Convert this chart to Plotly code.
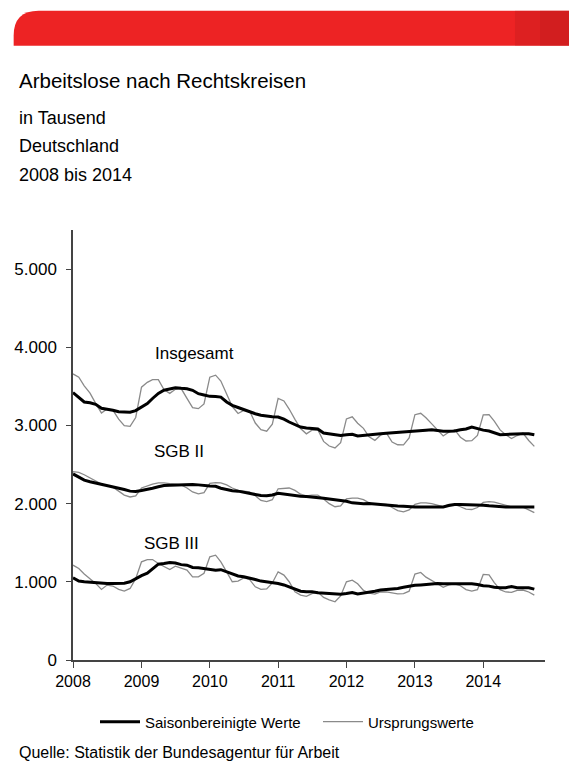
import pandas as pd
import plotly.graph_objects as go

W, H = 569, 764
ML, MR, MT, MB = 73.3, 24, 229.5, 104
PW, PH = W - ML - MR, H - MT - MB

months = pd.date_range("2008-01-01", periods=82, freq="MS")

ins_nsa = [3659, 3617, 3507, 3414, 3283, 3160, 3210, 3196, 3080, 2997, 2988, 3102,
           3489, 3552, 3586, 3585, 3458, 3410, 3462, 3472, 3346, 3229, 3215, 3276,
           3617, 3643, 3568, 3406, 3242, 3153, 3192, 3188, 3031, 2945, 2927, 3016,
           3347, 3313, 3210, 3078, 2960, 2893, 2939, 2945, 2796, 2737, 2713, 2780,
           3084, 3110, 3028, 2963, 2855, 2809, 2876, 2905, 2788, 2753, 2751, 2840,
           3138, 3156, 3098, 3020, 2937, 2865, 2914, 2946, 2849, 2801, 2806, 2873,
           3136, 3138, 3055, 2943, 2882, 2833, 2871, 2902, 2808, 2733]
ins_sa = [3420, 3360, 3300, 3290, 3270, 3220, 3210, 3195, 3175, 3170, 3170, 3190,
          3230, 3280, 3345, 3410, 3450, 3470, 3483, 3475, 3470, 3450, 3406, 3390,
          3372, 3370, 3363, 3300, 3257, 3230, 3201, 3175, 3150, 3130, 3116, 3110,
          3108, 3080, 3044, 3010, 2980, 2967, 2960, 2955, 2903, 2895, 2880, 2873,
          2880, 2886, 2865, 2875, 2882, 2890, 2895, 2900, 2905, 2912, 2915, 2916,
          2925, 2935, 2940, 2946, 2935, 2925, 2925, 2930, 2945, 2955, 2980, 2960,
          2940, 2929, 2905, 2882, 2885, 2890, 2895, 2895, 2895, 2882]
sgb2_nsa = [2410, 2400, 2370, 2330, 2290, 2250, 2230, 2210, 2160, 2110, 2085, 2100,
            2200, 2230, 2250, 2265, 2265, 2255, 2250, 2240, 2200, 2150, 2125, 2140,
            2260, 2270, 2265, 2240, 2200, 2170, 2160, 2150, 2100, 2040, 2027, 2050,
            2190, 2200, 2200, 2170, 2120, 2100, 2110, 2110, 2060, 2000, 1960, 1970,
            2060, 2070, 2070, 2050, 2010, 1990, 1990, 1990, 1950, 1910, 1895, 1920,
            1990, 2010, 2010, 2000, 1980, 1960, 1990, 1990, 1960, 1930, 1925, 1950,
            2015, 2025, 2020, 2000, 1985, 1960, 1960, 1955, 1920, 1886]
sgb2_sa = [2380, 2340, 2300, 2280, 2265, 2240, 2225, 2210, 2195, 2180, 2160, 2155,
           2167, 2180, 2197, 2215, 2231, 2235, 2239, 2239, 2239, 2245, 2240, 2231,
           2225, 2222, 2197, 2180, 2165, 2160, 2146, 2135, 2124, 2103, 2100, 2110,
           2132, 2120, 2110, 2100, 2094, 2090, 2085, 2075, 2068, 2060, 2050, 2040,
           2030, 2010, 2001, 2000, 2003, 1995, 1990, 1985, 1980, 1970, 1965, 1958,
           1958, 1958, 1957, 1960, 1962, 1958, 1975, 1988, 1990, 1988, 1988, 1985,
           1980, 1972, 1965, 1960, 1958, 1958, 1958, 1958, 1958, 1958]
sgb3_nsa = [1213, 1171, 1100, 1040, 980, 903, 958, 946, 903, 881, 915, 1040,
            1256, 1285, 1285, 1235, 1192, 1158, 1200, 1171, 1150, 1064, 1064, 1110,
            1320, 1341, 1256, 1128, 1001, 1010, 1050, 1030, 936, 903, 910, 985,
            1128, 1086, 1001, 873, 830, 815, 850, 870, 800, 770, 745, 820,
            1000, 1022, 975, 890, 855, 843, 870, 870, 855, 845, 850, 880,
            1100, 1120, 1060, 1022, 975, 930, 960, 975, 950, 900, 880, 900,
            1094, 1090, 990, 900, 870, 865, 890, 895, 870, 830]
sgb3_sa = [1051, 1010, 1000, 995, 985, 979, 979, 979, 979, 982, 1000, 1043,
           1080, 1110, 1160, 1226, 1235, 1248, 1240, 1220, 1213, 1184, 1180, 1170,
           1160, 1149, 1155, 1130, 1098, 1075, 1064, 1050, 1030, 1009, 1000, 990,
           979, 960, 936, 900, 880, 872, 872, 860, 855, 850, 843, 840,
           850, 864, 845, 855, 864, 880, 894, 900, 905, 915, 930, 945,
           955, 960, 965, 972, 979, 975, 975, 975, 975, 975, 975, 965,
           950, 945, 930, 924, 924, 940, 925, 925, 925, 907]

series_labels = ["Insgesamt", "SGB II", "SGB III"]
label_x = ["2009-10-13", "2009-07-20", "2009-06-12"]
label_y = [3920, 2669, 1494]

year_ticks = [f"{y}-01-01" for y in range(2008, 2015)]
year_text = [str(y) for y in range(2008, 2015)]
y_ticks = [0, 1000, 2000, 3000, 4000, 5000]
y_text = ["0", "1.000", "2.000", "3.000", "4.000", "5.000"]

FONT = "Arial, Liberation Sans, sans-serif"
GRAY = "#8a8a8a"


def px(x):
    return (x - ML) / PW


def py(y):
    return (MT + PH - y) / PH


fig = go.Figure()
pairs = [(ins_nsa, ins_sa), (sgb2_nsa, sgb2_sa), (sgb3_nsa, sgb3_sa)]
for i, (nsa, sa) in enumerate(pairs):
    fig.add_trace(go.Scatter(x=months, y=nsa, mode="lines", line=dict(color=GRAY, width=1.3),
                             name="Ursprungswerte", legendgroup="u", showlegend=(i == 0),
                             legend="legend2"))
for i, (nsa, sa) in enumerate(pairs):
    fig.add_trace(go.Scatter(x=months, y=sa, mode="lines", line=dict(color="black", width=3),
                             name="Saisonbereinigte Werte", legendgroup="s", showlegend=(i == 0),
                             legend="legend"))

annotations = []
for t, xx, yy in zip(series_labels, label_x, label_y):
    annotations.append(dict(x=xx, y=yy, xref="x", yref="y", text=t, showarrow=False,
                            font=dict(family=FONT, size=17, color="black")))

texts = [("Arbeitslose nach Rechtskreisen", 80, 20.5),
         ("in Tausend", 117, 18),
         ("Deutschland", 145, 18),
         ("2008 bis 2014", 174, 18),
         ("Quelle: Statistik der Bundesagentur für Arbeit", 753, 16)]
for t, yy, sz in texts:
    annotations.append(dict(x=px(17), y=py(yy), xref="paper", yref="paper", text=t,
                            showarrow=False, xanchor="left", yanchor="middle",
                            font=dict(family=FONT, size=sz, color="black")))

r = 25
banner = (f"M {px(14)},{py(45)} L {px(14)},{py(10 + r)} Q {px(14)},{py(10)} {px(14 + r)},{py(10)} "
          f"L {px(569)},{py(10)} L {px(569)},{py(45)} Z")
shapes = [
    dict(type="path", path=banner, xref="paper", yref="paper", fillcolor="#ED2324",
         line=dict(width=0), layer="above"),
    dict(type="rect", x0=px(515), x1=px(569), y0=py(10), y1=py(45), xref="paper", yref="paper",
         fillcolor="#B81A1C", opacity=0.3, line=dict(width=0), layer="above"),
    dict(type="rect", x0=px(540), x1=px(569), y0=py(10), y1=py(45), xref="paper", yref="paper",
         fillcolor="#B81A1C", opacity=0.3, line=dict(width=0), layer="above"),
]

legend_common = dict(orientation="h", xanchor="left", xref="container",
                     y=py(722), yanchor="middle", yref="paper",
                     font=dict(family=FONT, size=15, color="black"),
                     itemwidth=40, bgcolor="rgba(0,0,0,0)")

fig.update_layout(
    width=W, height=H,
    margin=dict(l=ML, r=MR, t=MT, b=MB, autoexpand=False),
    paper_bgcolor="white", plot_bgcolor="white",
    font=dict(family=FONT, size=15, color="black"),
    showlegend=True,
    legend=dict(x=95 / W, **legend_common),
    legend2=dict(x=318 / W, **legend_common),
    xaxis=dict(type="date", range=["2008-01-01", "2014-11-27"], tickvals=year_ticks,
               ticktext=year_text, ticks="outside", ticklen=6, tickcolor="#444",
               showline=True, linecolor="#444", linewidth=1.5, showgrid=False, zeroline=False,
               tickfont=dict(family=FONT, size=16, color="black")),
    yaxis=dict(range=[0, 5500], tickvals=y_ticks, ticktext=y_text, ticks="outside",
               ticklen=5, tickcolor="#444", showline=True, linecolor="#444", linewidth=1.5,
               showgrid=False, zeroline=False, ticklabelstandoff=6,
               tickfont=dict(family=FONT, size=17, color="black")),
    annotations=annotations,
    shapes=shapes,
)

fig.write_html("out.html", config={"displayModeBar": False},
               post_script="document.body.style.margin='0';")
